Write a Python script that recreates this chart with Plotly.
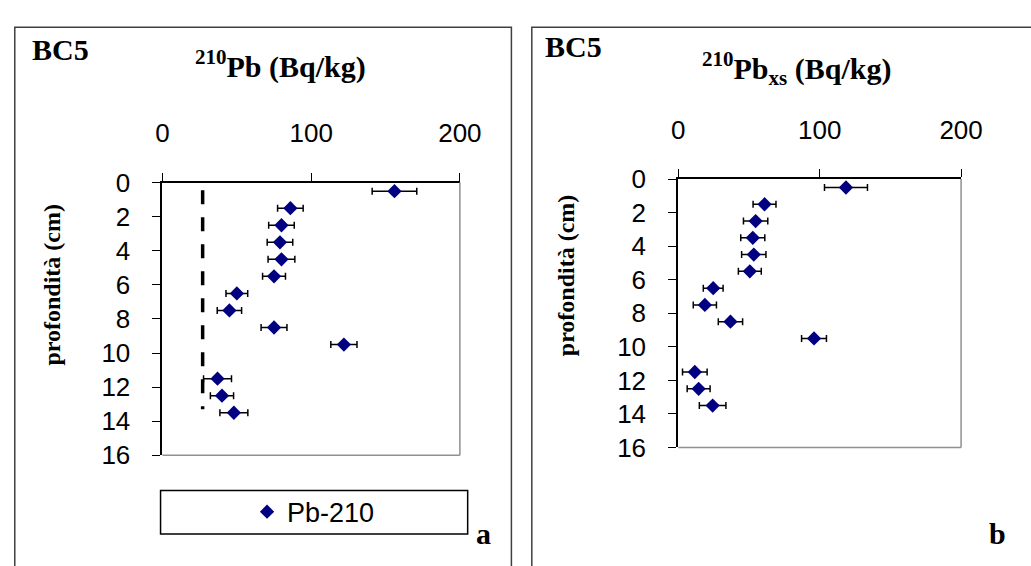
import plotly.graph_objects as go

depth = [0.5, 1.5, 2.5, 3.5, 4.5, 5.5, 6.5, 7.5, 8.5, 9.5, 11.5, 12.5, 13.5]
pb210 = [156, 86, 80, 79, 80, 75, 50, 45, 75, 122, 37, 40, 48]
pb210_err = [15, 8.6, 8.6, 8.6, 9, 7.7, 7.3, 8.2, 8.7, 8.8, 9.4, 7.8, 9.4]
pbxs = [118.6, 61, 54.7, 52.7, 53.4, 50.6, 24.7, 18.8, 36.9, 96, 11.7, 14.4, 24.3]
pbxs_err = [15.2, 8.1, 8.6, 8.5, 8.6, 8.1, 7, 8.2, 8.6, 8.8, 8.7, 8.1, 9.4]
supported_x = [27, 27]
supported_depth = [0.45, 13.3]
x_ticks = [0, 100, 200]
y_ticks = [0, 2, 4, 6, 8, 10, 12, 14, 16]

W, H = 1031, 566
def px(x):
    return x / W
def py(y):
    return 1 - y / H

NAVY = "#000080"
SANS = "Liberation Sans, Arial, sans-serif"
SERIF = "Liberation Serif, Times New Roman, serif"

fig = go.Figure()

fig.add_trace(go.Scatter(
    x=supported_x, y=supported_depth, mode="lines",
    line=dict(color="black", width=3.5, dash="14px,13px"),
    showlegend=False, xaxis="x", yaxis="y", hoverinfo="skip"))
fig.add_trace(go.Scatter(
    x=pb210, y=depth, mode="markers", name="Pb-210",
    marker=dict(symbol="diamond", size=11, color=NAVY),
    error_x=dict(type="data", array=pb210_err, color="black", thickness=1.5, width=3.5),
    xaxis="x", yaxis="y", showlegend=True))
fig.add_trace(go.Scatter(
    x=pbxs, y=depth, mode="markers", name="Pb-210 xs",
    marker=dict(symbol="diamond", size=11, color=NAVY),
    error_x=dict(type="data", array=pbxs_err, color="black", thickness=1.5, width=3.5),
    xaxis="x2", yaxis="y2", showlegend=False))

axis_common = dict(showgrid=False, zeroline=False, showline=True, linecolor="black",
                   linewidth=2, ticks="outside", ticklen=8, tickwidth=1, tickcolor="black",
                   tickfont=dict(family=SANS, size=26, color="black"))

fig.update_layout(
    width=W, height=H, margin=dict(l=0, r=0, t=0, b=0),
    paper_bgcolor="white", plot_bgcolor="white",
    xaxis=dict(domain=[px(160), px(466)], range=[0, 200], side="top", anchor="y",
               tickvals=x_ticks, ticklabelstandoff=20, **axis_common),
    yaxis=dict(domain=[py(465), py(177)], range=[16, 0], anchor="x",
               tickvals=y_ticks, ticklabelstandoff=17, **axis_common),
    xaxis2=dict(domain=[px(690.7), px(981.7)], range=[0, 200], side="top", anchor="y2",
                tickvals=x_ticks, ticklabelstandoff=20, **axis_common),
    yaxis2=dict(domain=[py(456.7), py(173.3)], range=[16, 0], anchor="x2",
                tickvals=y_ticks, ticklabelstandoff=17, **axis_common),
    legend=dict(x=px(247), y=py(525), xanchor="left", yanchor="middle",
                bgcolor="rgba(0,0,0,0)", borderwidth=0, itemwidth=30,
                font=dict(family=SANS, size=27, color="black")),
    showlegend=True,
)

shapes = []
# outer frames
shapes.append(dict(type="rect", xref="paper", yref="paper", x0=px(8), x1=px(519),
                   y0=-0.1, y1=py(13), line=dict(color="#404040", width=1.5)))
shapes.append(dict(type="rect", xref="paper", yref="paper", x0=px(540), x1=1.1,
                   y0=-0.1, y1=py(13), line=dict(color="#404040", width=1.5)))
# plot area gray right/bottom borders
for xa, ya in (("x", "y"), ("x2", "y2")):
    shapes.append(dict(type="line", xref=f"{xa} domain", yref=f"{ya} domain",
                       x0=1, x1=1, y0=0, y1=1, line=dict(color="#909090", width=1.5)))
    shapes.append(dict(type="line", xref=f"{xa} domain", yref=f"{ya} domain",
                       x0=0, x1=1, y0=0, y1=0, line=dict(color="#909090", width=1.5)))
# legend box
shapes.append(dict(type="rect", xref="paper", yref="paper", x0=px(158), x1=px(474),
                   y0=py(548), y1=py(502), line=dict(color="black", width=1.5)))
fig.update_layout(shapes=shapes)

ann = []
def text(x, y, s, size, family=SERIF, angle=0, xanchor="center"):
    ann.append(dict(x=px(x), y=py(y), xref="paper", yref="paper", text=s, showarrow=False,
                    font=dict(family=family, size=size, color="black"), textangle=angle,
                    xanchor=xanchor, yanchor="middle"))

text(24, 36, "<b>BC5</b>", 30, xanchor="left")
text(281, 52, "<b><sup>210</sup>Pb (Bq/kg)</b>", 30)
text(551, 33, "<b>BC5</b>", 30, xanchor="left")
text(812, 56, "<b><sup>210</sup>Pb<sub>xs</sub> (Bq/kg)</b>", 30)
text(46, 285, "<b>profondità (cm)</b>", 24, angle=-90)
text(576, 275, "<b>profondità (cm)</b>", 24, angle=-90)
text(490, 547, "<b>a</b>", 30)
text(1019, 547, "<b>b</b>", 30)
fig.update_layout(annotations=ann)

fig.write_html("out.html")
